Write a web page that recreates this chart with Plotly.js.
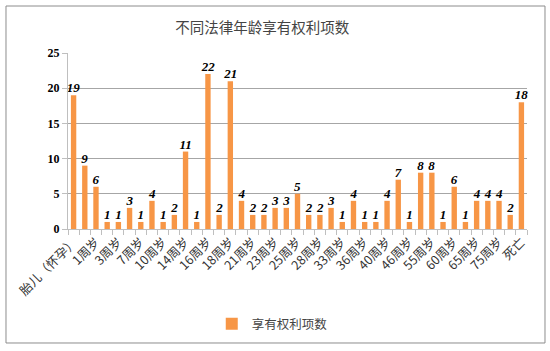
<!DOCTYPE html>
<html>
<head>
<meta charset="utf-8">
<script src="https://cdn.plot.ly/plotly-3.0.1.min.js"></script>
<style>html,body{margin:0;padding:0;background:#fff;}#chart{width:550px;height:351px;}</style>
</head>
<body>
<div id="chart"></div>
<script>
const categories = ["胎儿（怀孕）","出生","1周岁","2周岁","3周岁","6周岁","7周岁","8周岁","10周岁","12周岁","14周岁","15周岁","16周岁","17周岁","18周岁","20周岁","21周岁","22周岁","23周岁","24周岁","25周岁","26周岁","28周岁","30周岁","33周岁","35周岁","36周岁","38周岁","40周岁","45周岁","46周岁","50周岁","55周岁","58周岁","60周岁","62周岁","65周岁","70周岁","75周岁","80周岁","死亡"];
const values = [19,9,6,1,1,3,1,4,1,2,11,1,22,2,21,4,2,2,3,3,5,2,2,3,1,4,1,1,4,7,1,8,8,1,6,1,4,4,4,2,18];
const seriesName = "享有权利项数";
const chartTitle = "不同法律年龄享有权利项数";

const xIdx = categories.map((c, i) => i);
const shownIdx = xIdx.filter(i => i % 2 === 0);
const shownText = shownIdx.map(i => categories[i]);

const cjk = "Noto Sans CJK SC, sans-serif";
const serif = "Liberation Serif, Times New Roman, serif";

const trace = {
  type: "bar",
  x: xIdx,
  y: values,
  name: seriesName,
  marker: {color: "#F79646"},
  width: 0.48,
  text: values.map(String),
  textposition: "outside",
  constraintext: "none",
  textfont: {family: serif, size: 13, color: "#000", weight: "bold", style: "italic"},
  cliponaxis: false,
  hoverinfo: "x+y"
};

const layout = {
  width: 550, height: 351,
  margin: {l: 68, r: 23, t: 53, b: 122},
  paper_bgcolor: "#fff", plot_bgcolor: "#fff",
  title: {text: chartTitle, xref: "container", x: 0.477, xanchor: "center", y: 0.92, yanchor: "middle",
          font: {family: cjk, size: 14.5, color: "#444"}},
  showlegend: true,
  legend: {orientation: "h", x: 0.445, xanchor: "center", y: -0.54, yanchor: "middle",
           font: {family: cjk, size: 12.5, color: "#444"}},
  xaxis: {
    range: [-0.5, 40.5],
    tickmode: "array", tickvals: shownIdx, ticktext: shownText,
    tickangle: -45, ticks: "",
    tickfont: {family: cjk, size: 12.5, color: "#333"},
    showline: true, linecolor: "#BFBFBF", linewidth: 1,
    showgrid: false, zeroline: false,
    minor: {tick0: 0.5, dtick: 1, ticks: "outside", ticklen: 5, tickcolor: "#BFBFBF", showgrid: false}
  },
  yaxis: {
    range: [0, 25], dtick: 5, tick0: 0,
    ticks: "outside", ticklen: 5, tickcolor: "#BFBFBF",
    tickfont: {family: serif, size: 12, color: "#000", weight: "bold"},
    showline: true, linecolor: "#BFBFBF", linewidth: 1,
    showgrid: true, gridcolor: "#A6A6A6", gridwidth: 1,
    zeroline: false
  },
  bargap: 0.5,
  shapes: [{
    type: "rect", xref: "paper", yref: "paper",
    x0: -0.1351, x1: 1.0392, y0: -0.6477, y1: 1.267,
    line: {color: "#8C8C8C", width: 1}, fillcolor: "rgba(0,0,0,0)"
  }]
};

Plotly.newPlot("chart", [trace], layout, {staticPlot: true});
</script>
</body>
</html>
